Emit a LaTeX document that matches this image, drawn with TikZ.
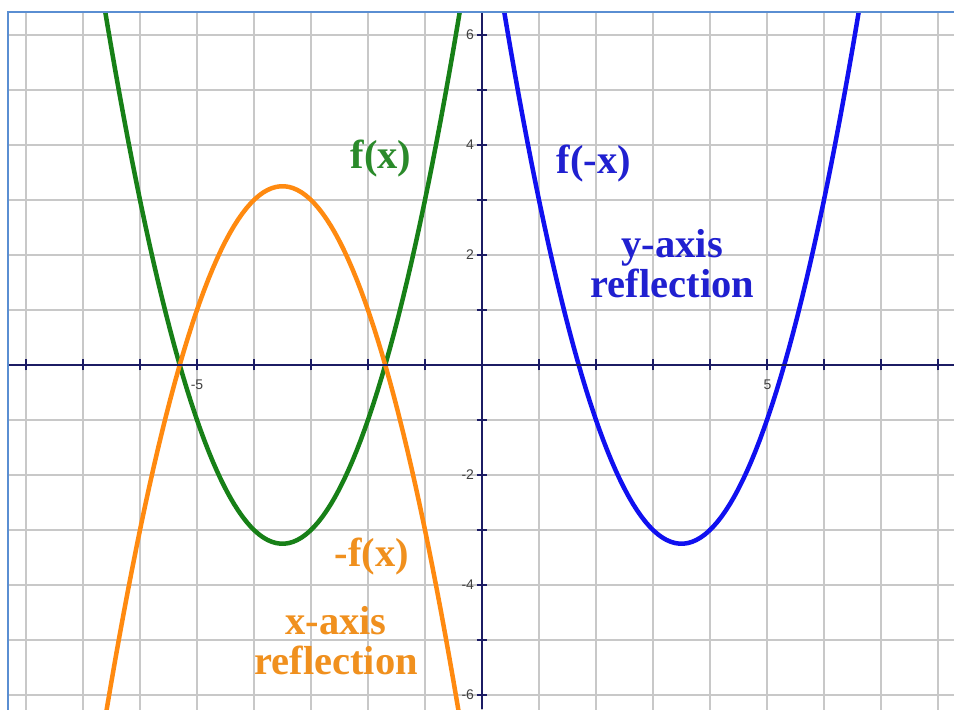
\documentclass[tikz,border=0pt]{standalone}
\usepackage{fontspec}
\setmainfont{Liberation Serif}
\setsansfont{Liberation Sans}
\usepackage{xcolor}
\definecolor{GridGray}{HTML}{C8C8C8}
\definecolor{AxisNavy}{HTML}{1C1C64}
\definecolor{FrameBlue}{HTML}{5A8ED2}
\definecolor{CurveGreen}{HTML}{178017}
\definecolor{CurveOrange}{HTML}{FF8A10}
\definecolor{CurveBlue}{HTML}{1010F0}
\definecolor{LabelGreen}{HTML}{2A8A2A}
\definecolor{LabelOrange}{HTML}{F0901E}
\definecolor{LabelBlue}{HTML}{2020D0}

\begin{document}
\begin{tikzpicture}[x=57pt,y=55pt,
  curve/.style={line width=4.5pt,line join=round},
  gridline/.style={GridGray,line width=1.2pt},
  ticklbl/.style={font=\sffamily\fontsize{14}{14}\selectfont,text=black!75,inner sep=1pt},
  reflbl/.style={font=\bfseries\fontsize{40.5}{40}\selectfont,align=center,inner sep=0pt}]
  \useasboundingbox (-8.456,-6.255) rectangle (8.281,6.636);
  \fill[white] (-8.456,-6.255) rectangle (8.281,6.636);
  % grid and the three curves, cut at the frame
  \begin{scope}
    \clip (-8.316,-6.255) rectangle (8.281,6.418);
    \foreach \gx in {-8,...,8}
      \draw[gridline] (\gx,-6.5)--(\gx,6.5);
    \foreach \gy in {-6,...,6}
      \draw[gridline] (-8.5,\gy)--(8.5,\gy);
    \draw[curve,CurveGreen] plot[domain=-6.8:-0.2,samples=90] (\x,{\x*\x+7*\x+9});
    \draw[curve,CurveOrange] plot[domain=-6.8:-0.2,samples=90] (\x,{-(\x*\x+7*\x+9)});
    \draw[curve,CurveBlue] plot[domain=0.2:6.8,samples=90] (\x,{\x*\x-7*\x+9});
  \end{scope}
  % axes
  \draw[AxisNavy,line width=1.6pt] (-8.316,0)--(8.281,0);
  \draw[AxisNavy,line width=1.6pt] (0,-6.255)--(0,6.418);
  \foreach \t in {-8,...,-1,1,2,...,8}
    \draw[AxisNavy,line width=1.4pt] (\t,-0.1)--(\t,0.1);
  \foreach \t in {-6,...,-1,1,2,...,6}
    \draw[AxisNavy,line width=1.4pt] (-0.09,\t)--(0.09,\t);
  \node[ticklbl] (xm5) at (-5,-0.36) {-5};
  \node[ticklbl] (xp5) at (5.01,-0.36) {5};
  \node[ticklbl,anchor=east] (yp6) at (-0.12,6) {6};
  \node[ticklbl,anchor=east] (yp4) at (-0.12,4) {4};
  \node[ticklbl,anchor=east] (yp2) at (-0.12,2) {2};
  \node[ticklbl,anchor=east] (ym2) at (-0.12,-2) {-2};
  \node[ticklbl,anchor=east] (ym4) at (-0.12,-4) {-4};
  \node[ticklbl,anchor=east] (ym6) at (-0.12,-6) {-6};
  % frame
  \draw[FrameBlue,line width=1.6pt] (-8.316,-6.3)--(-8.316,6.418)--(8.4,6.418);
  % labels
  \node[reflbl,LabelGreen] (fx) at (-1.77,3.75) {f(x)};
  \node[reflbl,LabelBlue] (fmx) at (1.96,3.67) {f(-x)};
  \node[reflbl,LabelBlue] (yrefl) at (3.34,1.85) {y-axis\\reflection};
  \node[reflbl,LabelOrange] (mfx) at (-1.93,-3.49) {-f(x)};
  \node[reflbl,LabelOrange] (xrefl) at (-2.56,-5.02) {x-axis\\reflection};
\end{tikzpicture}
\end{document}
